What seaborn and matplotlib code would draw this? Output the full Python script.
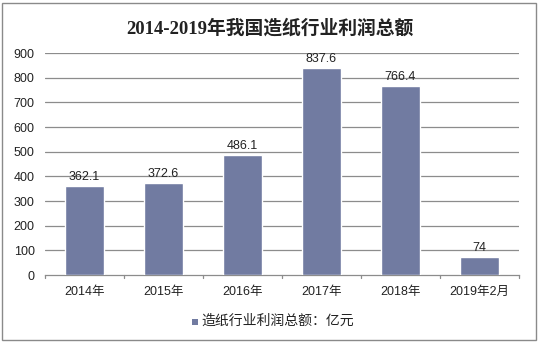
import matplotlib
matplotlib.use("Agg")
import matplotlib.pyplot as plt
import seaborn as sns
import pandas as pd
from matplotlib.patches import Rectangle

years = ["2014年", "2015年", "2016年", "2017年", "2018年", "2019年2月"]
profit = [362.1, 372.6, 486.1, 837.6, 766.4, 74]
value_labels = ["362.1", "372.6", "486.1", "837.6", "766.4", "74"]
yticks = [0, 100, 200, 300, 400, 500, 600, 700, 800, 900]
title = "2014-2019年我国造纸行业利润总额"
series_name = "造纸行业利润总额：亿元"

sns.set_theme(style="white")
plt.rcParams["font.family"] = ["Liberation Sans", "Noto Sans CJK SC", "DejaVu Sans"]

bar_color = "#717ba1"
grid_color = "#8c8c8c"

df = pd.DataFrame({"year": years, "profit": profit})

fig = plt.figure(figsize=(5.39, 3.42), dpi=100)
ax = fig.add_axes([45 / 539, 1 - 275 / 342, 474 / 539, 222 / 342])

sns.barplot(data=df, x="year", y="profit", color=bar_color, width=0.5,
            saturation=1, ax=ax, zorder=3)

ax.set_ylim(0, 900)
ax.set_xlim(-0.5, len(years) - 0.5)
ax.set_yticks(yticks)
ax.set_yticklabels([str(t) for t in yticks], fontsize=9, color="#222222")
ax.set_xlabel("")
ax.set_ylabel("")
ax.tick_params(axis="x", labelsize=9, colors="#222222", length=0, pad=8)
ax.tick_params(axis="y", length=0, pad=7.5)
for lbl in ax.get_xticklabels():
    lbl.set_family(["Liberation Sans", "Noto Sans CJK SC"])

for t in yticks[1:]:
    ax.axhline(t, color=grid_color, lw=0.9, zorder=1)

for side in ["top", "right", "left"]:
    ax.spines[side].set_visible(False)
ax.spines["bottom"].set_color(grid_color)
ax.spines["bottom"].set_linewidth(0.9)

# small tick marks at category boundaries
for b in [i - 0.5 for i in range(len(years) + 1)]:
    ax.plot([b, b], [0, -12], color=grid_color, lw=0.9, clip_on=False, zorder=2)

for i, (v, s) in enumerate(zip(profit, value_labels)):
    ax.text(i, v + 12, s, ha="center", va="bottom", fontsize=9, color="#222222", zorder=4)

fig.text(0.5, 1 - 28 / 342, title, ha="center", va="center", fontsize=13.5,
         fontweight="bold", family=["Liberation Serif", "Noto Sans CJK SC"], color="#222222")

# legend below the plot
fig.patches.append(Rectangle((192 / 539, 1 - 325 / 342), 6 / 539, 6 / 342,
                             transform=fig.transFigure, facecolor=bar_color,
                             edgecolor="none"))
fig.text(201 / 539, 1 - 321 / 342, series_name, ha="left", va="center",
         fontsize=10, family=["Noto Sans CJK SC"], color="#222222")

# outer frame
fig.patches.append(Rectangle((2 / 539, 2 / 342), 534 / 539, 337 / 342,
                             transform=fig.transFigure, facecolor="none",
                             edgecolor="#8a8a8a", lw=1))

fig.savefig("out.png", dpi=100)
